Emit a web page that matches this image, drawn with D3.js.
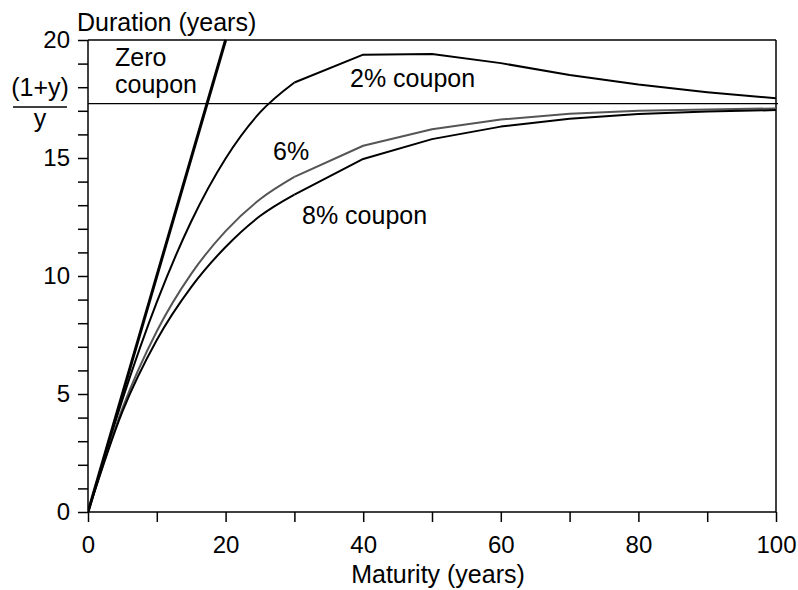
<!DOCTYPE html>
<html>
<head>
<meta charset="utf-8">
<script src="https://cdn.jsdelivr.net/npm/d3@7"></script>
<style>
  body { margin: 0; background: #fff; }
  text { font-family: "Liberation Sans", Arial, sans-serif; fill: #000; }
  .axis path, .axis line { stroke: #000; stroke-width: 1.5px; }
  .axis text { font-size: 24px; }
  .line { fill: none; stroke-linejoin: round; }
</style>
</head>
<body>
<svg width="798" height="590"></svg>
<script>

// maturity (years) at which durations were read
var maturity = [0, 5, 10, 15, 20, 25, 30, 40, 50, 60, 70, 80, 90, 100];

// duration (years) for each coupon
var coupon2 = [0, 4.76, 8.89, 12.31, 14.98, 16.93, 18.2, 19.38, 19.41, 19.02, 18.52, 18.11, 17.79, 17.53];
var coupon6 = [0, 4.39, 7.66, 10.09, 11.9, 13.25, 14.2, 15.52, 16.22, 16.63, 16.87, 17.0, 17.06, 17.1];
var coupon8 = [0, 4.25, 7.29, 9.53, 11.23, 12.54, 13.45, 14.96, 15.8, 16.33, 16.66, 16.86, 16.97, 17.03];

// zero coupon: duration equals maturity
var zeroMaturity = [0, 20];
var zeroDuration = [0, 20];

// (1+y)/y limit
var limit = 17.3;

var xTicks = [0, 10, 20, 30, 40, 50, 60, 70, 80, 90, 100];
var xLabels = [0, 20, 40, 60, 80, 100];
var yTicks = d3.range(0, 21, 1);
var yLabels = [0, 5, 10, 15, 20];

var svg = d3.select("svg"),
    margin = {top: 40, right: 22, bottom: 78, left: 88},
    width = svg.attr("width") - margin.left - margin.right,
    height = svg.attr("height") - margin.top - margin.bottom,
    g = svg.append("g").attr("transform", "translate(" + margin.left + "," + margin.top + ")");

var x = d3.scaleLinear().domain([0, 100]).range([0, width]),
    y = d3.scaleLinear().domain([0, 20]).range([height, 0]);

var series = [
  {id: "2%", values: coupon2, color: "#000", w: 2},
  {id: "6%", values: coupon6, color: "#555", w: 2},
  {id: "8%", values: coupon8, color: "#000", w: 2}
];

// smooth up to 30 years, straight segments after
var early = d3.line()
    .curve(d3.curveMonotoneX)
    .x(function(d) { return x(d.m); })
    .y(function(d) { return y(d.d); });

var late = d3.line()
    .x(function(d) { return x(d.m); })
    .y(function(d) { return y(d.d); });

// frame: top and right
g.append("line")
    .attr("x1", 0).attr("x2", width).attr("y1", 0).attr("y2", 0)
    .attr("stroke", "#000").attr("stroke-width", 1.5);
g.append("line")
    .attr("x1", width).attr("x2", width).attr("y1", 0).attr("y2", height)
    .attr("stroke", "#000").attr("stroke-width", 1.5);

// (1+y)/y line
g.append("line")
    .attr("x1", 0).attr("x2", width + 2)
    .attr("y1", y(limit)).attr("y2", y(limit))
    .attr("stroke", "#000").attr("stroke-width", 1.2);

g.append("defs").append("clipPath").attr("id", "clip")
  .append("rect").attr("width", width).attr("height", height + 2).attr("y", -1);

var plot = g.append("g").attr("clip-path", "url(#clip)");

series.forEach(function(s) {
  var pts = maturity.map(function(m, i) { return {m: m, d: s.values[i]}; });
  plot.append("path")
      .attr("class", "line")
      .attr("d", early(pts.filter(function(d) { return d.m <= 30; })))
      .style("stroke", s.color)
      .style("stroke-width", s.w);
  plot.append("path")
      .attr("class", "line")
      .attr("d", late(pts.filter(function(d) { return d.m >= 30; })))
      .style("stroke", s.color)
      .style("stroke-width", s.w);
});

plot.append("path")
    .attr("class", "line")
    .attr("d", late(zeroMaturity.map(function(m, i) { return {m: m, d: zeroDuration[i]}; })))
    .style("stroke", "#000")
    .style("stroke-width", 3);

// axes
g.append("g")
    .attr("class", "axis axis--x")
    .attr("transform", "translate(0," + height + ")")
    .call(d3.axisBottom(x).tickValues(xTicks).tickSize(10).tickPadding(14)
      .tickFormat(function(d) { return xLabels.indexOf(d) >= 0 ? d : ""; }))
    .call(function(a) { a.select(".domain").attr("d", "M0,0H" + width); });

g.append("g")
    .attr("class", "axis axis--y")
    .call(d3.axisLeft(y).tickValues(yTicks).tickSize(10).tickPadding(8)
      .tickFormat(function(d) { return yLabels.indexOf(d) >= 0 ? d : ""; }))
    .call(function(a) { a.select(".domain").attr("d", "M0," + height + "V0"); });

// titles
svg.append("text")
    .attr("x", 77).attr("y", 31)
    .style("font-size", "25px")
    .text("Duration (years)");

svg.append("text")
    .attr("x", 438).attr("y", 583)
    .attr("text-anchor", "middle")
    .style("font-size", "25px")
    .text("Maturity (years)");

// (1+y)/y label
svg.append("text")
    .attr("x", 40).attr("y", 96)
    .attr("text-anchor", "middle")
    .style("font-size", "25px")
    .text("(1+y)");
svg.append("line")
    .attr("x1", 13).attr("x2", 67).attr("y1", 107).attr("y2", 107)
    .attr("stroke", "#000").attr("stroke-width", 1.5);
svg.append("text")
    .attr("x", 40).attr("y", 127)
    .attr("text-anchor", "middle")
    .style("font-size", "25px")
    .text("y");

// curve labels
var labels = [
  {t: "Zero", x: 115, y: 66},
  {t: "coupon", x: 115, y: 93},
  {t: "2% coupon", x: 350, y: 87},
  {t: "6%", x: 273, y: 160},
  {t: "8% coupon", x: 302, y: 224}
];

svg.selectAll(".lbl")
  .data(labels)
  .enter().append("text")
    .attr("class", "lbl")
    .attr("x", function(d) { return d.x; })
    .attr("y", function(d) { return d.y; })
    .style("font-size", "25px")
    .text(function(d) { return d.t; });

</script>
</body>
</html>
